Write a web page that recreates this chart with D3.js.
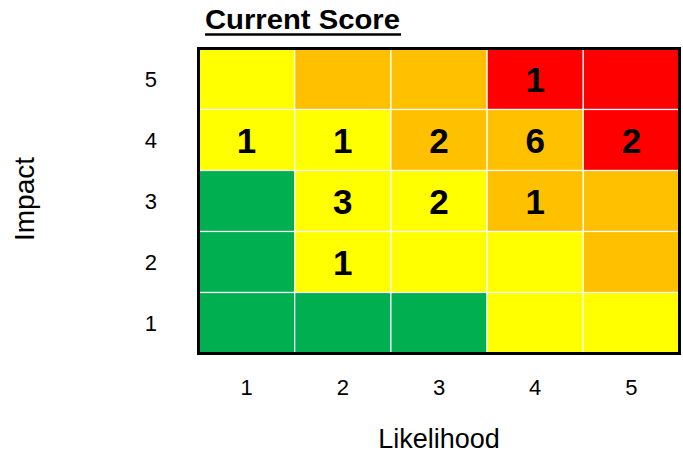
<!DOCTYPE html>
<html>
<head>
<meta charset="utf-8">
<script src="https://cdn.jsdelivr.net/npm/d3@7"></script>
<style>
  body { margin: 0; background: #fff; }
  text { font-family: "Liberation Sans", Arial, sans-serif; }
</style>
</head>
<body>
<svg id="chart" width="683" height="454"></svg>
<script>
var likelihood = [1, 2, 3, 4, 5];
var impact = [1, 2, 3, 4, 5];
// rating per impact row (top = 5), one entry per likelihood
var ratings = [
  ["Y", "O", "O", "R", "R"],   // impact 5
  ["Y", "Y", "O", "O", "R"],   // impact 4
  ["G", "Y", "Y", "O", "O"],   // impact 3
  ["G", "Y", "Y", "Y", "O"],   // impact 2
  ["G", "G", "G", "Y", "Y"]    // impact 1
];
var rowImpact = [5, 4, 3, 2, 1];
// current score counts: [likelihood, impact, count]
var counts = [
  [4, 5, 1],
  [1, 4, 1], [2, 4, 1], [3, 4, 2], [4, 4, 6], [5, 4, 2],
  [2, 3, 3], [3, 3, 2], [4, 3, 1],
  [2, 2, 1]
];

(function() {
  var svg = d3.select("#chart"),
      x0 = 198.5, x1 = 679.5, y0 = 48.5, y1 = 353.5;

  var color = d3.scaleOrdinal()
      .domain(["G", "Y", "O", "R"])
      .range(["#00b050", "#ffff00", "#ffc000", "#ff0000"]);

  var x = d3.scaleBand().domain(likelihood).range([x0, x1]);
  var y = d3.scaleBand().domain(impact.slice().reverse()).range([y0, y1]);

  var cells = [];
  ratings.forEach(function(row, i) {
    row.forEach(function(r, j) {
      cells.push({ l: likelihood[j], i: rowImpact[i], r: r });
    });
  });

  svg.append("g").selectAll("rect")
      .data(cells)
      .enter().append("rect")
      .attr("x", function(d) { return x(d.l); })
      .attr("y", function(d) { return y(d.i); })
      .attr("width", x.bandwidth())
      .attr("height", y.bandwidth())
      .attr("fill", function(d) { return color(d.r); })
      .attr("stroke", "#fff")
      .attr("stroke-width", 1.2);

  svg.append("rect")
      .attr("x", x0).attr("y", y0)
      .attr("width", x1 - x0).attr("height", y1 - y0)
      .attr("fill", "none")
      .attr("stroke", "#000")
      .attr("stroke-width", 3);

  svg.append("g").selectAll("text")
      .data(counts)
      .enter().append("text")
      .attr("x", function(d) { return x(d[0]) + x.bandwidth() / 2; })
      .attr("y", function(d) { return y(d[1]) + y.bandwidth() / 2; })
      .attr("dy", "0.36em")
      .attr("text-anchor", "middle")
      .attr("font-size", 35)
      .attr("font-weight", "bold")
      .text(function(d) { return d[2]; });

  // axes
  var xAxis = svg.append("g")
      .attr("transform", "translate(0,387)")
      .call(d3.axisBottom(x).tickSize(0).tickPadding(0));
  var yAxis = svg.append("g")
      .attr("transform", "translate(157,0)")
      .call(d3.axisLeft(y).tickSize(0).tickPadding(0));
  [xAxis, yAxis].forEach(function(a) {
    a.select(".domain").remove();
    a.selectAll("text")
        .attr("font-size", 22)
        .attr("font-family", "'Liberation Sans', Arial, sans-serif")
        .attr("fill", "#000");
  });
  xAxis.selectAll("text").attr("dy", "0.36em");
  yAxis.selectAll("text").attr("dy", "0.36em");

  svg.append("text")
      .attr("x", 439).attr("y", 448)
      .attr("text-anchor", "middle")
      .attr("font-size", 27)
      .text("Likelihood");

  svg.append("text")
      .attr("transform", "translate(34,199) rotate(-90)")
      .attr("text-anchor", "middle")
      .attr("font-size", 28)
      .text("Impact");

  svg.append("text")
      .attr("x", 205).attr("y", 29)
      .attr("font-size", 28)
      .attr("font-weight", "bold")
      .attr("textLength", 195)
      .attr("lengthAdjust", "spacingAndGlyphs")
      .text("Current Score");
  svg.append("line")
      .attr("x1", 205).attr("x2", 401)
      .attr("y1", 34.5).attr("y2", 34.5)
      .attr("stroke", "#000")
      .attr("stroke-width", 2.5);
})();
</script>
</body>
</html>
